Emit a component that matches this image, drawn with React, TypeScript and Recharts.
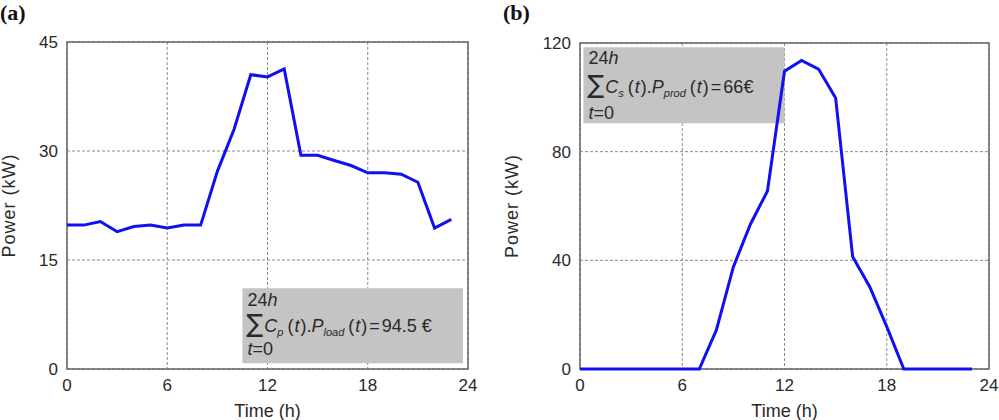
import React from 'react'
import { LineChart, Line, XAxis, YAxis, CartesianGrid, ReferenceArea } from 'recharts'

// hours of the day
const hours = [0, 1, 2, 3, 4, 5, 6, 7, 8, 9, 10, 11, 12, 13, 14, 15, 16, 17, 18, 19, 20, 21, 22, 23]

// (a) load power, kW
const loadPower = [
  19.8, 19.8, 20.3, 18.9, 19.6, 19.8, 19.4, 19.8, 19.8, 27.2, 33.0, 40.5,
  40.2, 41.3, 29.4, 29.4, 28.7, 28.0, 27.0, 27.0, 26.8, 25.7, 19.4, 20.6,
]

// (b) production power, kW
const prodPower = [
  0, 0, 0, 0, 0, 0, 0, 0, 14.3, 37.6, 53.3, 65.5,
  109.6, 113.6, 110.4, 99.8, 41.3, 30.3, 15.6, 0, 0, 0, 0, 0,
]

const xTicks = [0, 6, 12, 18, 24]
const loadTicks = [0, 15, 30, 45]
const prodTicks = [0, 40, 80, 120]

const loadData = hours.map((h, i) => ({ t: h, p: loadPower[i] }))
const prodData = hours.map((h, i) => ({ t: h, p: prodPower[i] }))

const FONT = '"Liberation Sans", Arial, Helvetica, sans-serif'
const TEXT = '#2a2a2a'
const tick = { fontSize: 17, fill: TEXT, fontFamily: FONT }

const XTitle = ({ viewBox }: any) => (
  <text
    x={viewBox.x + viewBox.width / 2}
    y={viewBox.y + viewBox.height + 18}
    textAnchor="middle"
    fontSize={18}
    fontFamily={FONT}
    fill={TEXT}
  >
    Time (h)
  </text>
)

const YTitle = ({ viewBox, dx }: any) => {
  const cx = viewBox.x + dx
  const cy = viewBox.y + viewBox.height / 2
  return (
    <text
      x={cx}
      y={cy}
      transform={`rotate(-90 ${cx} ${cy})`}
      textAnchor="middle"
      dominantBaseline="central"
      fontSize={18}
      letterSpacing={1}
      fontFamily={FONT}
      fill={TEXT}
    >
      Power (kW)
    </text>
  )
}

const CostNote = ({ viewBox, sub1, sub2, value, rows }: any) => {
  const { x, y } = viewBox
  return (
    <g fontFamily={FONT} fill={TEXT}>
      <text x={x + 5} y={y + rows[0]} fontSize={18}>
        24<tspan fontStyle="italic">h</tspan>
      </text>
      <text x={x + 4} y={y + rows[1]} fontSize={18}>
        <tspan fontSize={25} fontFamily="DejaVu Sans">∑</tspan>
        <tspan fontStyle="italic" dx={1}>C</tspan>
        <tspan fontStyle="italic" fontSize={11} dy={4}>{sub1}</tspan>
        <tspan dy={-4} dx={4}>(</tspan>
        <tspan fontStyle="italic" dx={1}>t</tspan>
        <tspan dx={1}>).</tspan>
        <tspan fontStyle="italic">P</tspan>
        <tspan fontStyle="italic" fontSize={11} dy={4}>{sub2}</tspan>
        <tspan dy={-4} dx={4}>(</tspan>
        <tspan fontStyle="italic" dx={1}>t</tspan>
        <tspan dx={1}>)</tspan>
        <tspan dx={2}>=</tspan>
        <tspan dx={2}>{value}</tspan>
      </text>
      <text x={x + 5} y={y + rows[2]} fontSize={18}>
        <tspan fontStyle="italic">t</tspan>=0
      </text>
    </g>
  )
}

const panelLabel = (left: number): React.CSSProperties => ({
  position: 'absolute',
  left,
  top: 2,
  fontFamily: '"Liberation Serif", "Times New Roman", serif',
  fontWeight: 'bold',
  fontSize: 22,
  lineHeight: 1,
  color: '#111',
})

export default function App() {
  return (
    <div style={{ position: 'absolute', left: 0, top: 0, width: 999, height: 420, background: '#fff' }}>
      <div style={panelLabel(0)}>(a)</div>
      <div style={panelLabel(503)}>(b)</div>

      <div style={{ position: 'absolute', left: 0, top: 0 }}>
        <LineChart width={500} height={420} data={loadData} margin={{ top: 42, right: 32, bottom: 21, left: 0 }}>
          <CartesianGrid stroke="#8a8a8a" strokeDasharray="3 2" />
          <XAxis
            dataKey="t"
            type="number"
            domain={[0, 24]}
            ticks={xTicks}
            height={30}
            tick={tick}
            tickLine={false}
            axisLine={false}
            tickMargin={4}
            label={<XTitle />}
          />
          <YAxis
            type="number"
            domain={[0, 45]}
            ticks={loadTicks}
            width={67}
            tick={tick}
            tickLine={false}
            axisLine={false}
            tickMargin={3}
            label={<YTitle dx={9} />}
          />
          <ReferenceArea
            x1={10.5}
            x2={23.7}
            y1={0.8}
            y2={11.1}
            fill="#c4c4c4"
            fillOpacity={1}
            label={<CostNote sub1="p" sub2="load" value="94.5 €" rows={[18, 44, 67]} />}
          />
          <ReferenceArea x1={0} x2={24} y1={0} y2={45} fill="none" stroke="#666" strokeWidth={1.5} />
          <Line type="linear" dataKey="p" stroke="#1010f0" strokeWidth={3} dot={false} isAnimationActive={false} />
        </LineChart>
      </div>

      <div style={{ position: 'absolute', left: 500, top: 0 }}>
        <LineChart width={499} height={420} data={prodData} margin={{ top: 43, right: 10, bottom: 21, left: 0 }}>
          <CartesianGrid stroke="#8a8a8a" strokeDasharray="3 2" />
          <XAxis
            dataKey="t"
            type="number"
            domain={[0, 24]}
            ticks={xTicks}
            height={30}
            tick={tick}
            tickLine={false}
            axisLine={false}
            tickMargin={4}
            label={<XTitle />}
          />
          <YAxis
            type="number"
            domain={[0, 120]}
            ticks={prodTicks}
            width={80}
            tick={tick}
            tickLine={false}
            axisLine={false}
            tickMargin={3}
            label={<YTitle dx={12} />}
          />
          <ReferenceArea
            x1={0.2}
            x2={12}
            y1={90.5}
            y2={118.4}
            fill="#c4c4c4"
            fillOpacity={1}
            label={<CostNote sub1="s" sub2="prod" value="66€" rows={[17, 46, 72]} />}
          />
          <ReferenceArea x1={0} x2={24} y1={0} y2={120} fill="none" stroke="#666" strokeWidth={1.5} />
          <Line type="linear" dataKey="p" stroke="#1010f0" strokeWidth={3} dot={false} isAnimationActive={false} />
        </LineChart>
      </div>
    </div>
  )
}
